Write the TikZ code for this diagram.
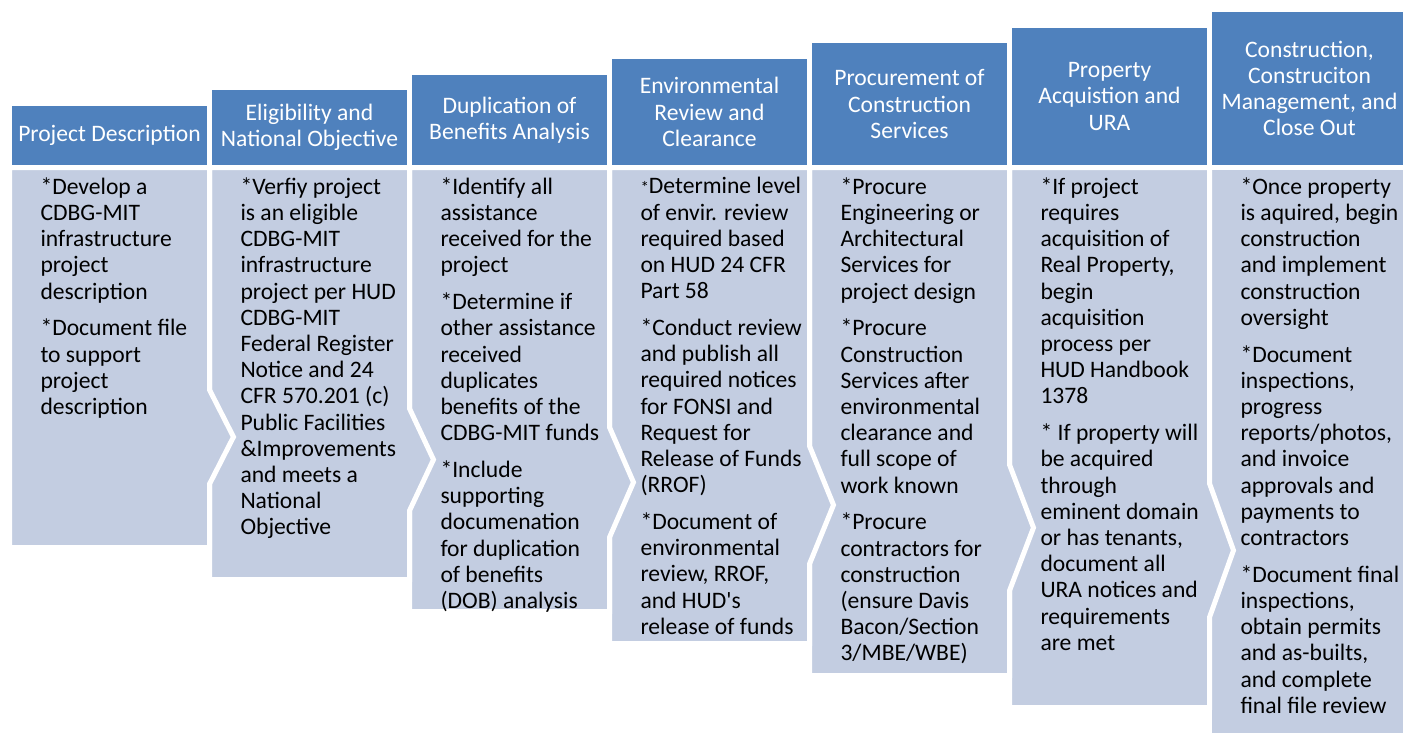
\documentclass[tikz,border=0pt]{standalone}
\usepackage{fontspec}
\setmainfont{Carlito}
\definecolor{stepblue}{RGB}{79,129,189}
\definecolor{paleblue}{RGB}{195,205,225}

\begin{document}
\begin{tikzpicture}[
  x=1pt,y=-1pt,
  txt/.style={font=\fontsize{23.6}{26.2}\selectfont,inner sep=0,outer sep=0},
  head/.style={txt,draw=white,line width=5pt,fill=stepblue,text=white,align=center,
    minimum width=200pt,anchor=south west},
  panel/.style={draw=white,line width=5pt,fill=paleblue},
  notes/.style={txt,align=left,anchor=north west,execute at begin node=\strut},
]
  \useasboundingbox (0,0) rectangle (1403,732);
  % last panel is plain, the others point into their right neighbour
  \draw[panel] (1209.5,167.5) rectangle (1409.5,739.5);
  \foreach \i in {6,...,1} {
    \pgfmathsetmacro\lx{9.5+200*(\i-1)}
    \pgfmathsetmacro\rx{\lx+200}
    \pgfmathsetmacro\by{547.5+32*(\i-1)}
    \pgfmathsetmacro\ty{167.5+.709*(\by-167.5)}
    \pgfmathsetmacro\th{.124*(\by-167.5)}
    \draw[panel] (\lx,167.5) -- (\rx,167.5) -- (\rx,\ty-\th) -- (\rx+24,\ty)
      -- (\rx,\ty+\th) -- (\rx,\by) -- (\lx,\by) -- cycle;
  }
  % step titles, growing taller to the right
  \foreach \i/\title in {1/{Project Description},
      2/{Eligibility and\\National Objective},
      3/{Duplication of\\Benefits Analysis},
      4/{Environmental\\Review and\\Clearance},
      5/{Procurement of\\Construction\\Services},
      6/{Property\\Acquistion and\\URA},
      7/{Construction,\\Construciton\\Management, and\\Close Out}} {
    \pgfmathsetmacro\lx{9.5+200*(\i-1)}
    \node[head,minimum height={64+15.67*(\i-1)}] (head\i) at (\lx,167.5) {\title};
  }
  \node[notes] (notes1) at (40.5,177.5) {*Develop a\\CDBG-MIT\\infrastructure\\project\\description\\[10.6pt]
    *Document file\\to support\\project\\description};
  \node[notes] (notes2) at (240.5,177.5) {*Verfiy project\\is an eligible\\CDBG-MIT\\infrastructure\\
    project per HUD\\CDBG-MIT\\Federal Register\\Notice and 24\\CFR 570.201 (c)\\Public Facilities\\
    \&Improvements\\and meets a\\National\\Objective};
  \node[notes] (notes3) at (440.5,177.5) {*Identify all\\assistance\\received for the\\project\\[10.6pt]
    *Determine if\\other assistance\\received\\duplicates\\benefits of the\\CDBG-MIT funds\\[10.6pt]
    *Include\\supporting\\documenation\\for duplication\\of benefits\\(DOB) analysis};
  \node[notes] (notes4) at (640.5,177.5) {{\fontsize{17}{17}\selectfont*}Determine level\\of envir. review\\
    required based\\on HUD 24 CFR\\Part 58\\[10.6pt]
    *Conduct review\\and publish all\\required notices\\for FONSI and\\Request for\\Release of Funds\\(RROF)\\[10.6pt]
    *Document of\\environmental\\review, RROF,\\and HUD\textquotesingle s\\release of funds};
  \node[notes] (notes5) at (840.5,177.5) {*Procure\\Engineering or\\Architectural\\Services for\\project design\\[10.6pt]
    *Procure\\Construction\\Services after\\environmental\\clearance and\\full scope of\\work known\\[10.6pt]
    *Procure\\contractors for\\construction\\(ensure Davis\\Bacon/Section\\3/MBE/WBE)};
  \node[notes] (notes6) at (1040.5,177.5) {*If project\\requires\\acquisition of\\Real Property,\\begin\\
    acquisition\\process per\\HUD Handbook\\1378\\[10.6pt]
    * If property will\\be acquired\\through\\eminent domain\\or has tenants,\\document all\\
    URA notices and\\requirements\\are met};
  \node[notes] (notes7) at (1240.5,177.5) {*Once property\\is aquired, begin\\construction\\and implement\\
    construction\\oversight\\[10.6pt]
    *Document\\inspections,\\progress\\reports/photos,\\and invoice\\approvals and\\payments to\\contractors\\[10.6pt]
    *Document final\\inspections,\\obtain permits\\and as-builts,\\and complete\\final file review};
\end{tikzpicture}
\end{document}
